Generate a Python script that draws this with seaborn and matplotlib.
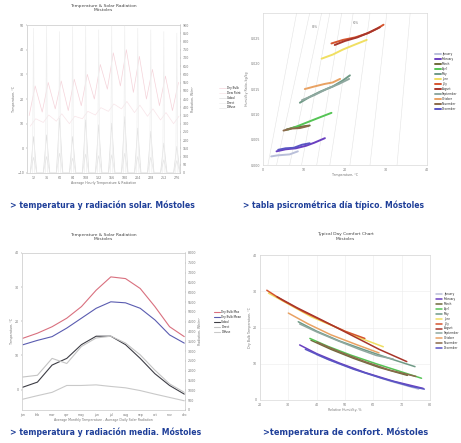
import matplotlib
matplotlib.use("Agg")
import matplotlib.pyplot as plt
import pandas as pd
import seaborn as sns

# ---------------- data ----------------
# top left: hourly sample, one value per day
day_temp_max = [25.3, 26.7, 27.3, 28.0, 30.0, 34.0, 38.7, 40.0, 37.3, 32.0, 29.3, 26.7]
day_temp_min = [13.3, 14.7, 16.0, 15.3, 17.3, 20.0, 24.0, 25.3, 22.7, 20.0, 17.3, 15.3]
day_dew = [9.0, 10.5, 11.0, 10.0, 12.0, 13.5, 15.0, 16.0, 14.5, 13.0, 11.5, 10.0]
day_global_peak = [222, 232, 333, 222, 323, 293, 303, 343, 273, 253, 182, 162]
day_direct_peak = [880, 900, 860, 890, 900, 870, 900, 895, 880, 870, 860, 850]
day_diffuse_peak = [95, 100, 120, 90, 115, 105, 110, 120, 100, 95, 80, 75]

# bottom left: monthly averages
months = ["jan", "feb", "mar", "apr", "may", "jun", "jul", "aug", "sep", "oct", "nov", "dec"]
t_max = [15.0, 16.5, 18.4, 20.9, 24.3, 29.1, 33.0, 32.5, 29.6, 24.3, 18.4, 15.5]
t_mean = [13.1, 14.4, 15.5, 18.0, 20.9, 23.8, 25.7, 25.4, 23.8, 20.4, 16.0, 13.6]
rad_global = [1160, 1420, 2290, 2630, 3330, 3760, 3760, 3330, 2630, 1850, 1250, 810]
rad_direct = [1680, 1770, 2630, 2370, 3240, 3670, 3760, 3410, 2810, 2030, 1330, 900]
rad_diffuse = [550, 730, 900, 1250, 1250, 1280, 1200, 1130, 990, 810, 640, 470]

# top right: typical day per month, dry bulb vs humidity ratio
month_names = ["January", "February", "March", "April", "May", "June", "July",
               "August", "September", "October", "November", "December"]
month_colors = ["#b9bfd9", "#6a3fc0", "#6f6a3a", "#55c455", "#6f9a86", "#f0df62",
                "#d5552f", "#a8352a", "#8fa8a0", "#e9a263", "#8a6a4a", "#5a55c4"]
psy_t = [
    [2.0, 3.5, 5.0, 6.5, 8.5],
    [3.3, 5.5, 8.0, 10.5, 12.5, 15.1],
    [5.7, 7.5, 9.5, 11.4],
    [6.1, 8.5, 11.0, 13.5, 16.7],
    [9.0, 11.5, 14.0, 17.0, 19.5, 21.2],
    [14.3, 17.0, 19.5, 22.5, 25.3],
    [16.7, 19.5, 22.5, 25.5, 28.0, 29.4],
    [17.5, 20.0, 23.0, 26.0, 28.5],
    [9.5, 12.5, 15.5, 18.5, 21.0],
    [10.2, 12.5, 15.0, 17.0, 18.8],
    [5.0, 7.0, 9.0, 11.0],
    [3.7, 5.5, 7.5, 9.5, 11.4],
]
psy_w = [
    [0.0017, 0.0019, 0.0020, 0.0021, 0.0027],
    [0.0027, 0.0031, 0.0033, 0.0038, 0.0044, 0.0053],
    [0.0070, 0.0074, 0.0076, 0.0078],
    [0.0070, 0.0077, 0.0085, 0.0093, 0.0103],
    [0.0123, 0.0135, 0.0145, 0.0155, 0.0167, 0.0177],
    [0.0210, 0.0218, 0.0228, 0.0238, 0.0247],
    [0.0240, 0.0247, 0.0252, 0.0260, 0.0270, 0.0277],
    [0.0237, 0.0245, 0.0252, 0.0262, 0.0272],
    [0.0128, 0.0138, 0.0150, 0.0160, 0.0170],
    [0.0150, 0.0155, 0.0160, 0.0163, 0.0170],
    [0.0068, 0.0072, 0.0073, 0.0077],
    [0.0030, 0.0033, 0.0034, 0.0040, 0.0043],
]
# relative humidity guide lines (dry bulb where they meet bottom / top of chart)
guide_t_bottom = [1.2, 3.3, 6.5, 9.4, 13.1, 16.3, 21.2, 26.1, 32.7]
guide_t_top = [8.2, 11.4, 14.3, 16.3, 19.2, 22.0, 26.1, 30.2, 35.9]

# bottom right: comfort chart, relative humidity vs dry bulb
cmf_rh = [
    [40, 48, 57, 66, 76],
    [34, 40, 48, 57, 67, 77.6],
    [38, 45, 53, 62, 72],
    [37.6, 44, 52, 61, 69, 77],
    [33.5, 40, 48, 57, 66, 74.7],
    [23, 30, 38, 47, 55, 63.5],
    [22.4, 28, 35, 43, 50, 57],
    [26, 33, 42, 52, 62, 71.8],
    [34, 40, 47, 55, 61, 67],
    [30, 37, 45, 54, 62],
    [40, 48, 57, 66, 75],
    [36, 44, 53, 63, 73, 78],
]
cmf_t = [
    [12.5, 10.0, 7.5, 5.2, 3.0],
    [15.2, 12.8, 10.2, 7.6, 5.2, 3.2],
    [16.5, 14.0, 11.5, 9.0, 6.8],
    [17.0, 14.8, 12.4, 10.0, 8.0, 6.0],
    [21.6, 19.0, 16.3, 13.8, 11.4, 9.2],
    [29.5, 26.5, 23.0, 20.0, 17.2, 14.7],
    [30.3, 27.5, 24.5, 21.5, 19.0, 17.0],
    [28.5, 25.5, 22.0, 18.0, 14.0, 10.6],
    [21.0, 18.8, 16.5, 14.0, 12.3, 11.3],
    [24.0, 21.0, 18.0, 15.3, 13.0],
    [16.0, 13.3, 10.6, 8.2, 6.5],
    [14.0, 11.2, 8.5, 6.0, 3.8, 3.0],
]

captions = ["> temperatura y radiación solar. Móstoles",
            "> tabla psicrométrica día típico. Móstoles",
            "> temperatura y radiación media. Móstoles",
            ">temperatura de confort. Móstoles"]

# ---------------- style ----------------
sns.set_theme(style="white")
plt.rcParams["font.family"] = ["DejaVu Sans"]
TICK = 2.3
TXT = "#777777"
CAP = "#1f3f99"

fig = plt.figure(figsize=(4.61, 4.43), dpi=100)


def tidy(ax, grid=False):
    ax.tick_params(labelsize=TICK, colors=TXT, length=1, width=0.3, pad=1)
    for s in ax.spines.values():
        s.set_color("#d0d0d0")
        s.set_linewidth(0.4)
    if grid:
        ax.grid(True, color="#ececec", linewidth=0.4)


def small_legend(ax, handles, labels, x, y):
    ax.legend(handles, labels, loc="center left", bbox_to_anchor=(x, y), fontsize=2.0,
              frameon=False, handlelength=2.2, handletextpad=0.5, labelspacing=0.35,
              borderaxespad=0)


# ---- top left: hourly temperature & radiation ----
ax1 = fig.add_axes([0.0586, 0.6095, 0.332, 0.334])
ax1b = ax1.twinx()
rows_t, rows_r = [], []
for d in range(len(day_temp_max)):
    rows_t += [(24 * d + 4, day_temp_min[d], "Dry Bulb"), (24 * d + 15, day_temp_max[d], "Dry Bulb"),
               (24 * d + 6, day_dew[d], "Dew Point"), (24 * d + 16, day_dew[d] + 3, "Dew Point")]
    rows_r += [(24 * d + 6, 0, "Global"), (24 * d + 12, day_global_peak[d], "Global"),
               (24 * d + 18, 0, "Global"),
               (24 * d + 10, 0, "Direct"), (24 * d + 12, day_direct_peak[d], "Direct"),
               (24 * d + 14, 0, "Direct"),
               (24 * d + 6, 0, "Diffuse"), (24 * d + 12, day_diffuse_peak[d], "Diffuse"),
               (24 * d + 18, 0, "Diffuse")]
hourly_t = pd.DataFrame(rows_t, columns=["hour", "value", "series"])
hourly_r = pd.DataFrame(rows_r, columns=["hour", "value", "series"])
sns.lineplot(data=hourly_t, x="hour", y="value", hue="series", estimator=None,
             palette={"Dry Bulb": "#f5d3da", "Dew Point": "#f8e4e8"}, linewidth=0.5,
             ax=ax1, legend=False)
sns.lineplot(data=hourly_r, x="hour", y="value", hue="series", estimator=None,
             palette={"Global": "#dedede", "Direct": "#efefef", "Diffuse": "#e6e6e6"},
             linewidth=0.5, ax=ax1b, legend=False)
ax1.set_xlim(0, 282)
ax1.set_xticks(range(12, 282, 24))
ax1.set_ylim(-10, 50)
ax1b.set_ylim(0, 900)
ax1b.set_yticks(range(0, 901, 50))
ax1.set_xlabel("Average Hourly Temperature & Radiation", fontsize=2.3, color=TXT, labelpad=1)
ax1.set_ylabel("Temperature, °C", fontsize=2.3, color=TXT, labelpad=1)
ax1b.set_ylabel("Radiation, W/m²", fontsize=2.3, color=TXT, labelpad=1)
ax1.set_title("Temperature & Solar Radiation\nMóstoles", fontsize=3.2, color="#444444", pad=10)
tidy(ax1)
tidy(ax1b)
small_legend(ax1b, ax1.get_lines() + ax1b.get_lines(),
             ["Dry Bulb", "Dew Point", "Global", "Direct", "Diffuse"], 1.25, 0.51)

# ---- top right: psychrometric chart ----
ax2 = fig.add_axes([0.5705, 0.6275, 0.3557, 0.343])
for tb, tt in zip(guide_t_bottom, guide_t_top):
    ax2.plot([tb, tt], [0, 0.030], color="#e3e3e3", linewidth=0.4)
for i, name in enumerate(month_names):
    sns.lineplot(x=psy_t[i], y=psy_w[i], color=month_colors[i], linewidth=1.4,
                 estimator=None, sort=False, ax=ax2)
ax2.text(11.8, 0.0270, "80%", fontsize=2, color=TXT)
ax2.text(22.0, 0.0278, "60%", fontsize=2, color=TXT)
ax2.set_xlim(0, 40)
ax2.set_ylim(0, 0.030)
ax2.set_xticks(range(0, 41, 10))
ax2.set_yticks([0.0, 0.005, 0.010, 0.015, 0.020, 0.025])
ax2.set_xlabel("Temperature, °C", fontsize=2.3, color=TXT, labelpad=1)
ax2.set_ylabel("Humidity Ratio, kg/kg", fontsize=2.3, color=TXT, labelpad=1)
tidy(ax2)
small_legend(ax2, ax2.get_lines()[len(guide_t_bottom):], month_names, 1.04, 0.55)

# ---- bottom left: monthly temperature & radiation ----
ax3 = fig.add_axes([0.0477, 0.0745, 0.3536, 0.3544])
ax3b = ax3.twinx()
temps = pd.DataFrame({"month": months * 2, "value": t_max + t_mean,
                      "series": ["Dry Bulb Max"] * 12 + ["Dry Bulb Mean"] * 12})
rads = pd.DataFrame({"month": months * 3, "value": rad_global + rad_direct + rad_diffuse,
                     "series": ["Global"] * 12 + ["Direct"] * 12 + ["Diffuse"] * 12})
sns.lineplot(data=temps, x="month", y="value", hue="series", estimator=None, sort=False,
             palette={"Dry Bulb Max": "#d9707f", "Dry Bulb Mean": "#5a5cb0"}, linewidth=0.8,
             ax=ax3, legend=False)
sns.lineplot(data=rads, x="month", y="value", hue="series", estimator=None, sort=False,
             palette={"Global": "#3d3d45", "Direct": "#c4c4c4", "Diffuse": "#c9c9c9"},
             linewidth=0.8, ax=ax3b, legend=False)
ax3.set_xlim(-0.05, 11.05)
ax3.set_ylim(-6, 40)
ax3.set_yticks([0, 10, 20, 30, 40])
ax3b.set_ylim(0, 8000)
ax3b.set_yticks(range(0, 8001, 500))
ax3.set_xlabel("Average Monthly Temperature - Average Daily Solar Radiation", fontsize=2.3,
               color=TXT, labelpad=1)
ax3.set_ylabel("Temperature, °C", fontsize=2.3, color=TXT, labelpad=1)
ax3b.set_ylabel("Radiation, Wh/m²", fontsize=2.3, color=TXT, labelpad=1)
ax3.set_title("Temperature & Solar Radiation\nMóstoles", fontsize=3.2, color="#444444", pad=9)
tidy(ax3)
tidy(ax3b)
small_legend(ax3b, ax3.get_lines() + ax3b.get_lines(),
             ["Dry Bulb Max", "Dry Bulb Mean", "Global", "Direct", "Diffuse"], 1.17, 0.56)

# ---- bottom right: comfort chart ----
ax4 = fig.add_axes([0.564, 0.0971, 0.3688, 0.327])
for i, name in enumerate(month_names):
    sns.lineplot(x=cmf_rh[i], y=cmf_t[i], color=month_colors[i], linewidth=1.1,
                 estimator=None, sort=False, ax=ax4)
ax4.set_xlim(20, 80)
ax4.set_ylim(0, 40)
ax4.set_xticks(range(20, 81, 10))
ax4.set_yticks(range(0, 41, 10))
ax4.set_xlabel("Relative Humidity, %", fontsize=2.3, color=TXT, labelpad=1)
ax4.set_ylabel("Dry Bulb Temperature, °C", fontsize=2.3, color=TXT, labelpad=1)
ax4.set_title("Typical Day Comfort Chart\nMóstoles", fontsize=3.2, color="#444444", pad=11)
tidy(ax4, grid=True)
small_legend(ax4, ax4.get_lines(), month_names, 1.03, 0.545)

# ---- captions ----
cap_pos = [(10, 205), (243, 205), (10, 432), (263, 432)]
cap_width = [185, 180, 190, 165]
for (px, py), w, text in zip(cap_pos, cap_width, captions):
    t = fig.text(px / 461, 1 - py / 443, text, fontsize=7.0, color=CAP, fontweight="heavy",
                 fontstretch="condensed", family=["DejaVu Sans"], va="center", ha="left")
    # shrink to the width the caption takes in the reference
    fig.canvas.draw()
    ext = t.get_window_extent()
    if ext.width > w:
        t.set_fontsize(7.0 * w / ext.width)

fig.savefig("out.png", dpi=100)
